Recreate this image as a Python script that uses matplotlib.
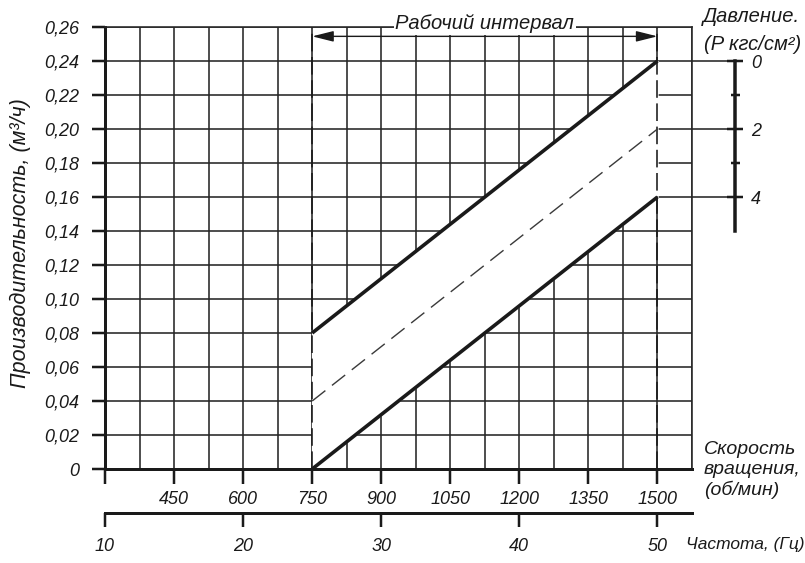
import matplotlib.pyplot as plt

# рабочий интервал насоса
rpm_work = [750, 1500]
q_max = [0.08, 0.24]   # верхняя граница, м3/ч (P = 0)
q_mid = [0.04, 0.20]   # средняя (пунктир, P = 2)
q_min = [0.00, 0.16]   # нижняя граница (P = 4)

rpm_ticks = [300, 450, 600, 750, 900, 1050, 1200, 1350, 1500]
rpm_grid = [300, 375, 450, 525, 600, 675, 750, 825, 900, 975, 1050,
            1125, 1200, 1275, 1350, 1425, 1500, 1575]
hz_ticks = [10, 20, 30, 40, 50]
q_ticks = [0, 0.02, 0.04, 0.06, 0.08, 0.10, 0.12, 0.14, 0.16, 0.18,
           0.20, 0.22, 0.24, 0.26]
p_major = [0, 2, 4]
p_minor = [1, 3]
p_max = 5

plt.rcParams['font.family'] = ['Liberation Sans', 'DejaVu Sans']
plt.rcParams['font.style'] = 'italic'
plt.rcParams['font.size'] = 13

W, H = 805, 563
PT = 0.72  # точек на пиксель при dpi=100
INK = '#1a1a1a'
GRID = '#262626'


def fy(y):
    return 1 - y / H


fig = plt.figure(figsize=(W / 100, H / 100), dpi=100)
L, R, T, B = 105, 692, 27, 469
ax = fig.add_axes([L / W, fy(B), (R - L) / W, (B - T) / H])
ax.set_xlim(rpm_grid[0], rpm_grid[-1])
ax.set_ylim(q_ticks[0], q_ticks[-1])
ax.set_axisbelow(True)

ax.set_xticks(rpm_ticks)
ax.set_xticklabels(['' if v == rpm_ticks[0] else str(v) for v in rpm_ticks])
ax.set_xticks(rpm_grid, minor=True)
ax.set_yticks(q_ticks)
ax.set_yticklabels(['0' if v == 0 else f'{v:.2f}'.replace('.', ',') for v in q_ticks])
ax.grid(True, which='both', color=GRID, lw=1.6 * PT)
ax.tick_params(axis='x', which='major', direction='out', length=15 * PT,
               width=2.5 * PT, pad=5, colors=INK)
ax.tick_params(axis='x', which='minor', length=0)
ax.tick_params(axis='y', direction='out', length=13 * PT, width=2.5 * PT,
               pad=9, colors=INK)
for s in ['left', 'bottom']:
    ax.spines[s].set_linewidth(3 * PT)
    ax.spines[s].set_color(INK)
for s in ['top', 'right']:
    ax.spines[s].set_linewidth(1.6 * PT)
    ax.spines[s].set_color(GRID)

# полоса рабочего режима
ax.fill_between(rpm_work, q_min, q_max, color='white', zorder=1)
ax.plot(rpm_work, q_max, color=INK, lw=3.6 * PT, zorder=3, solid_capstyle='butt')
ax.plot(rpm_work, q_min, color=INK, lw=3.6 * PT, zorder=3, solid_capstyle='butt')
ax.plot(rpm_work, q_mid, color='#3a3a3a', lw=1.4 * PT, dashes=(12, 6), zorder=3)
for x in rpm_work:
    ax.axvline(x, color=INK, lw=1.6 * PT, dashes=(11, 3.5), zorder=2)

# стрелка "Рабочий интервал"
ax.annotate('', xy=(rpm_work[0], 0.2545), xytext=(rpm_work[1], 0.2545),
            arrowprops=dict(arrowstyle='<|-|>,head_length=1.0,head_width=0.25',
                            color=INK, lw=1.4 * PT, shrinkA=0, shrinkB=0),
            zorder=5)
ax.text(sum(rpm_work) / 2, 0.2618, 'Рабочий интервал', ha='center', va='center',
        color=INK, zorder=4, clip_on=False, fontsize=14.5,
        bbox=dict(facecolor='white', edgecolor='none', pad=1.0))

# вторая шкала: частота, Гц
sec = ax.secondary_xaxis(-(513 - B) / (B - T),
                         functions=(lambda r: r / 30, lambda f: f * 30))
sec.set_xticks(hz_ticks)
sec.tick_params(direction='out', length=14 * PT, width=2.5 * PT, pad=8, colors=INK)
sec.spines['bottom'].set_linewidth(3 * PT)
sec.spines['bottom'].set_color(INK)

# шкала давления справа
q_step = (q_max[-1] - q_min[-1]) / p_major[-1]
ax_h = (B - T) / H
span = q_ticks[-1] - q_ticks[0]
yb = fy(B) + (q_max[-1] - p_max * q_step) / span * ax_h
yt = fy(B) + q_max[-1] / span * ax_h
px = 734
pax = fig.add_axes([px / W, yb, 0.001, yt - yb])
pax.set_ylim(p_max, 0)
pax.set_xticks([])
pax.patch.set_alpha(0)
for s in ['left', 'top', 'bottom']:
    pax.spines[s].set_visible(False)
pax.spines['right'].set_linewidth(3.5 * PT)
pax.spines['right'].set_color(INK)
pax.yaxis.tick_right()
pax.set_yticks(p_major)
pax.set_yticks(p_minor, minor=True)
pax.tick_params(axis='y', which='major', direction='inout', length=16 * PT,
                width=2.5 * PT, pad=6, colors=INK)
pax.tick_params(axis='y', which='minor', direction='inout', length=9 * PT,
                width=2.5 * PT, colors=INK)
ax.hlines([q_max[-1], q_mid[-1], q_min[-1]], 1, (px - L) / (R - L),
          transform=ax.get_yaxis_transform(), clip_on=False, color=GRID,
          lw=1.6 * PT)

# подписи
fig.text(20 / W, fy(243), 'Производительность, (м³/ч)', rotation=90,
         ha='center', va='center', color=INK, fontsize=15.5)
fig.text(703 / W, fy(16), 'Давление.', ha='left', va='center', color=INK,
         fontsize=14.5)
fig.text(704 / W, fy(44), '(P кгс/см²)', ha='left', va='center', color=INK,
         fontsize=14.5)
fig.text(704 / W, fy(470), 'Скорость\nвращения,\n(об/мин)', ha='left',
         va='center', linespacing=1.24, color=INK, fontsize=14)
fig.text(686 / W, fy(545), 'Частота, (Гц)', ha='left', va='center', color=INK,
         fontsize=12.5)

fig.savefig('out.png', dpi=100, facecolor='white')
